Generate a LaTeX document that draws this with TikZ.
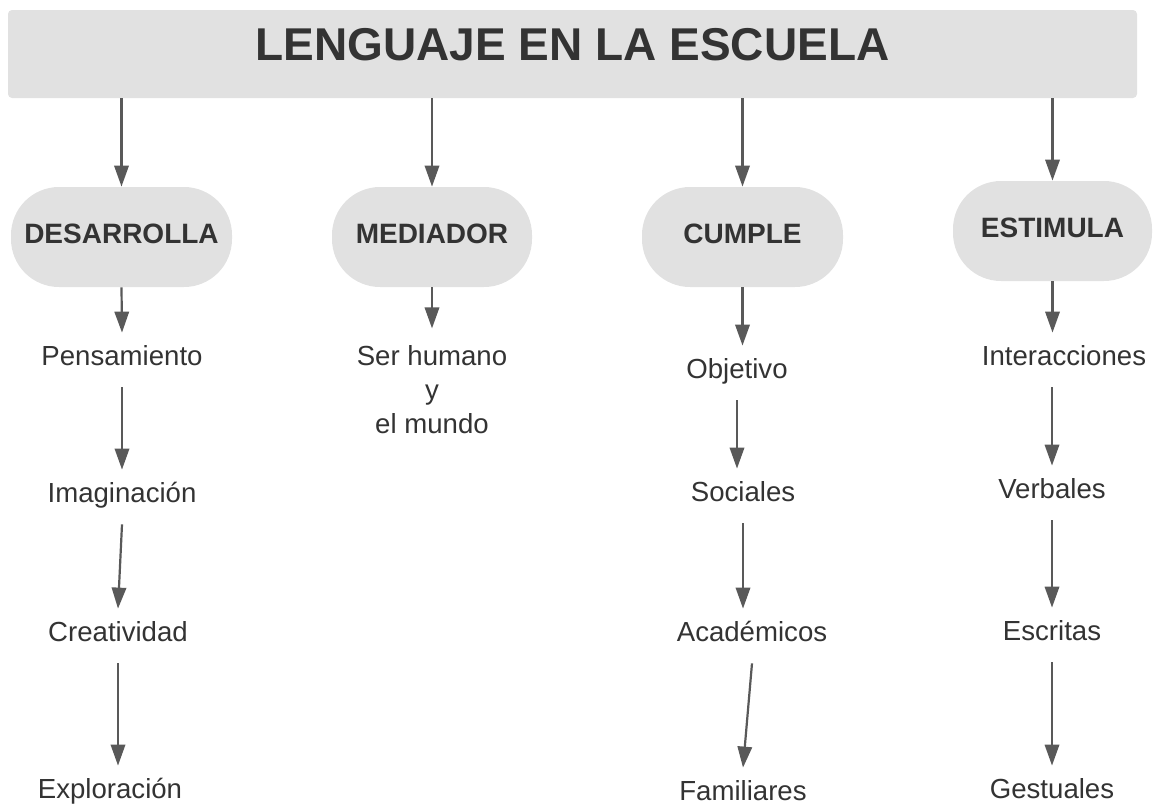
\documentclass[tikz,border=0pt]{standalone}
\usepackage{fontspec}
\setmainfont{Liberation Sans}
\usepackage{tikz}
\usepackage{xcolor}
\usetikzlibrary{arrows.meta, positioning}
\definecolor{boxgray}{RGB}{225, 225, 225}
\definecolor{textgray}{RGB}{51, 51, 51}
\definecolor{edgegray}{RGB}{89, 89, 89}

\begin{document}
\begin{tikzpicture}[
    x=0.5pt, y=-0.5pt,
    titlebox/.style={fill=boxgray, rounded corners=2pt, minimum width=564.5pt, minimum height=44pt, inner sep=0pt, text=textgray, font=\fontsize{23}{28}\selectfont\bfseries, text height=16.5pt, text depth=10pt},
    pill/.style={fill=boxgray, rounded corners=24pt, minimum height=50pt, inner sep=0pt, text=textgray, font=\fontsize{14}{17}\selectfont\bfseries, text height=10pt, text depth=4pt},
    leaf/.style={text=textgray, font=\fontsize{13.8}{17}\selectfont, inner xsep=0pt, inner ysep=8.5pt},
    item/.style={leaf, text height=0.75em, text depth=0.25em},
    arrow/.style={-{Stealth[length=10.5pt, width=7.2pt, inset=0pt]}, line width=1.1pt, edgegray}
]
\useasboundingbox (0,0) rectangle (1162,810);

% Title
\node[titlebox] (title) at (572.5,54) {LENGUAJE EN LA ESCUELA};

% Main branches
\node[pill, minimum width=110.5pt] (des) at (121.5,237) {DESARROLLA};
\node[pill, minimum width=100pt] (med) at (432,237) {MEDIADOR};
\node[pill, minimum width=100.5pt] (cum) at (742.5,237) {CUMPLE};
\node[pill, minimum width=99.5pt] (est) at (1052.5,231) {ESTIMULA};

\foreach \b in {des, med, cum, est}
    \draw[arrow] (title.south -| \b.north) -- (\b.north);

% Column 1: DESARROLLA
\node[item] (pens) at (122,360) {Pensamiento};
\node[item] (imag) at (122,497) {Imaginación};
\node[item] (crea) at (118,636) {Creatividad};
\node[item] (expl) at (110,793) {Exploración};

\draw[arrow] (des.south) -- (pens.north);
\draw[arrow] (pens.south) -- (imag.north);
\draw[arrow] (imag.south) -- (crea.north);
\draw[arrow] (crea.south) -- (crea.south |- expl.north);

% Column 2: MEDIADOR
\node[leaf, align=center, below=20.5pt of med] (ser) {Ser humano\\y\\el mundo};

\draw[arrow] (med.south) -- (ser.north);

% Column 3: CUMPLE
\node[item] (obj) at (737,373) {Objetivo};
\node[item] (soc) at (743,496) {Sociales};
\node[item] (acad) at (752,636) {Académicos};
\node[item] (fam) at (743,795) {Familiares};

\draw[arrow] (cum.south) -- (cum.south |- obj.north);
\draw[arrow] (obj.south) -- (obj.south |- soc.north);
\draw[arrow] (soc.south) -- (soc.south |- acad.north);
\draw[arrow] (acad.south) -- (fam.north);

% Column 4: ESTIMULA
\node[item] (inter) at (1064,360) {Interacciones};
\node[item] (verb) at (1052,493) {Verbales};
\node[item] (escr) at (1052,635) {Escritas};
\node[item] (gest) at (1052,793) {Gestuales};

\draw[arrow] (est.south) -- (est.south |- inter.north);
\draw[arrow] (inter.south -| verb.north) -- (verb.north);
\draw[arrow] (verb.south) -- (escr.north);
\draw[arrow] (escr.south) -- (gest.north);

\end{tikzpicture}
\end{document}
